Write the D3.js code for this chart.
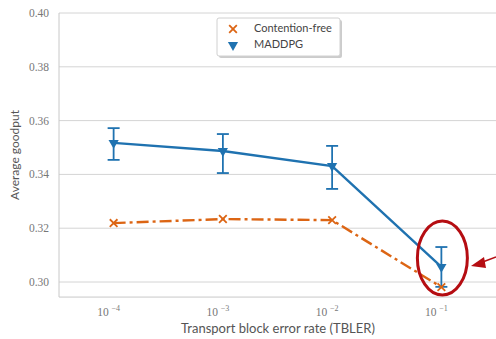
<!DOCTYPE html>
<html>
<head>
<meta charset="utf-8">
<script src="https://cdn.jsdelivr.net/npm/d3@7"></script>
<style>
  body { margin: 0; background: #fff; }
  svg { display: block; }
  .serif { font-family: "Liberation Serif", "DejaVu Serif", serif; }
  .sans { font-family: Lato, "DejaVu Sans", sans-serif; }
</style>
</head>
<body>
<svg id="chart" width="496" height="339"></svg>
<script>
const tbler = [1e-4, 1e-3, 1e-2, 1e-1];
const contention = [0.3219, 0.3234, 0.3230, 0.2981];
const maddpg = [0.3517, 0.3487, 0.3431, 0.3056];
const maddpgLo = [0.3454, 0.3405, 0.3346, 0.2982];
const maddpgHi = [0.3572, 0.3550, 0.3506, 0.3130];
const yTicks = [0.30, 0.32, 0.34, 0.36, 0.38, 0.40];
const xExp = [-4, -3, -2, -1];

const svg = d3.select("#chart");
const blue = "#1f72b0", orange = "#dc6514";

const x = d3.scaleLog().domain([10 ** -4.5, 10 ** -0.5]).range([59, 496]);
const y = d3.scaleLinear().domain([0.30, 0.40]).range([282, 13]);
const yBottom = y(0.2944);

// gridlines
svg.append("g").selectAll("line").data(yTicks).join("line")
  .attr("x1", 59).attr("x2", 496)
  .attr("y1", d => y(d)).attr("y2", d => y(d))
  .attr("stroke", "#d4d4d4").attr("stroke-width", 1);

// frame
svg.append("line").attr("x1", 59).attr("x2", 59).attr("y1", y(0.40)).attr("y2", yBottom)
  .attr("stroke", "#c8c8c8");
svg.append("line").attr("x1", 59).attr("x2", 496).attr("y1", yBottom).attr("y2", yBottom)
  .attr("stroke", "#c8c8c8");

// y tick labels
svg.append("g").selectAll("text").data(yTicks).join("text")
  .attr("class", "serif")
  .attr("x", 49).attr("y", d => y(d) + 4)
  .attr("text-anchor", "end")
  .attr("font-size", 11.5)
  .attr("fill", "#777")
  .text(d => d.toFixed(2));

// x tick labels
const xt = svg.append("g").selectAll("text").data(xExp).join("text")
  .attr("class", "serif")
  .attr("x", d => x(10 ** d) - 5).attr("y", 316)
  .attr("text-anchor", "middle")
  .attr("font-size", 11.5)
  .attr("fill", "#777");
xt.append("tspan").text("10 ");
xt.append("tspan").attr("dy", -5).attr("font-size", 8).text(d => "−" + (-d));

// axis titles
svg.append("text")
  .attr("class", "sans")
  .attr("transform", "translate(19,155) rotate(-90)")
  .attr("text-anchor", "middle")
  .attr("font-size", 12)
  .attr("fill", "#555")
  .text("Average goodput");
svg.append("text")
  .attr("class", "sans")
  .attr("x", 278).attr("y", 333)
  .attr("text-anchor", "middle")
  .attr("font-size", 13)
  .attr("fill", "#555")
  .text("Transport block error rate (TBLER)");

// contention-free line
const line = d3.line().x(d => x(d[0])).y(d => y(d[1]));
svg.append("path")
  .datum(d3.zip(tbler, contention))
  .attr("d", line)
  .attr("fill", "none").attr("stroke", orange).attr("stroke-width", 2.4)
  .attr("stroke-dasharray", "12,4,3,4");

// MADDPG line
svg.append("path")
  .datum(d3.zip(tbler, maddpg))
  .attr("d", line)
  .attr("fill", "none").attr("stroke", blue).attr("stroke-width", 2.4);

// error bars
const eb = svg.append("g").selectAll("g").data(tbler).join("g")
  .attr("stroke", blue).attr("stroke-width", 1.8);
eb.append("line").attr("x1", d => x(d)).attr("x2", d => x(d))
  .attr("y1", (d, i) => y(maddpgHi[i])).attr("y2", (d, i) => y(maddpgLo[i]));
eb.append("line").attr("x1", d => x(d) - 6).attr("x2", d => x(d) + 6)
  .attr("y1", (d, i) => y(maddpgHi[i])).attr("y2", (d, i) => y(maddpgHi[i]));
eb.append("line").attr("x1", d => x(d) - 6).attr("x2", d => x(d) + 6)
  .attr("y1", (d, i) => y(maddpgLo[i])).attr("y2", (d, i) => y(maddpgLo[i]));

// markers
const tri = d3.symbol().type(d3.symbolTriangle).size(45);
svg.append("g").selectAll("path").data(tbler).join("path")
  .attr("d", tri)
  .attr("transform", (d, i) => `translate(${x(d)},${y(maddpg[i])}) rotate(180)`)
  .attr("fill", blue);
const cross = d3.symbol().type(d3.symbolX).size(40);
svg.append("g").selectAll("path").data(tbler).join("path")
  .attr("d", cross)
  .attr("transform", (d, i) => `translate(${x(d)},${y(contention[i])})`)
  .attr("fill", "none").attr("stroke", orange).attr("stroke-width", 1.8);

// legend
const lg = svg.append("g");
lg.append("rect").attr("x", 219).attr("y", 20).attr("width", 123).attr("height", 38)
  .attr("fill", "#ccc").attr("rx", 2);
lg.append("rect").attr("x", 217).attr("y", 18).attr("width", 123).attr("height", 38)
  .attr("fill", "#fff").attr("stroke", "#d0d0d0").attr("rx", 2);
lg.append("path").attr("d", cross).attr("transform", "translate(233,29)")
  .attr("fill", "none").attr("stroke", orange).attr("stroke-width", 1.8);
lg.append("path").attr("d", tri).attr("transform", "translate(233,45) rotate(180)")
  .attr("fill", blue);
lg.append("text").attr("class", "sans").attr("x", 254).attr("y", 32)
  .attr("font-size", 11)
  .attr("fill", "#444").text("Contention-free");
lg.append("text").attr("class", "sans").attr("x", 254).attr("y", 48)
  .attr("font-size", 11)
  .attr("fill", "#444").text("MADDPG");

// annotation: red ellipse and arrow
const red = "#b50d12";
svg.append("ellipse").attr("cx", x(1e-1) + 1).attr("cy", 258).attr("rx", 25).attr("ry", 37)
  .attr("fill", "none").attr("stroke", red).attr("stroke-width", 3);
svg.append("line").attr("x1", 496).attr("y1", 257).attr("x2", 480).attr("y2", 263)
  .attr("stroke", red).attr("stroke-width", 1.5);
svg.append("path").attr("d", "M471,266 L484,257 L486,268 Z").attr("fill", red);
</script>
</body>
</html>
